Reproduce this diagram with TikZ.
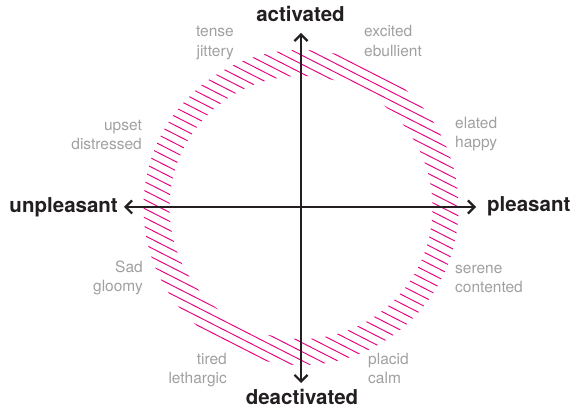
\documentclass[tikz,border=0pt]{standalone}
\usepackage{fontspec}
\setmainfont{TeX Gyre Heros}
\usetikzlibrary{arrows.meta}
\definecolor{hatchpink}{HTML}{E8007F}
\definecolor{axisdark}{HTML}{231F20}
\definecolor{labelgray}{HTML}{A0A0A0}
\begin{document}
\begin{tikzpicture}[x=1pt,y=-1pt,
  hatchline/.style={draw=hatchpink, line width=0.95pt},
  axisline/.style={draw=axisdark, line width=2.8pt,
    {Straight Barb[length=6.5pt,width=13pt,line width=2.2pt]}-{Straight Barb[length=6.5pt,width=13pt,line width=2.2pt]}},
  axislabel/.style={inner sep=0pt, text=axisdark, font=\fontsize{20.5}{24}\selectfont\bfseries},
  moodlabel/.style={inner sep=0pt, text=labelgray, font=\fontsize{15.5}{19.5}\selectfont},
]
\useasboundingbox (0,0) rectangle (574,409);
\coordinate (c) at (301,207.5);
% hatched ring
\begin{scope}[even odd rule]
  \clip (c) circle[radius=157.5] (c) circle[radius=131.5];
  \foreach \i in {-26,...,26}
    \draw[hatchline] ({301-\i*8*sin(27)-220*cos(27)},{207.5+\i*8*cos(27)-220*sin(27)})
      -- ++({440*cos(27)},{440*sin(27)});
\end{scope}
% axes
\coordinate (top) at (301,33);
\coordinate (bottom) at (301,383);
\coordinate (left) at (124,207);
\coordinate (right) at (476,207);
\draw[axisline] (bottom) -- (top);
\draw[axisline] (left) -- (right);
% axis labels
\node[axislabel, anchor=base] (act) at (300.5,22) {activated};
\node[axislabel, anchor=base] (deact) at (302,405) {deactivated};
\node[axislabel, anchor=base east] (unpl) at (118,213) {unpleasant};
\node[axislabel, anchor=base west] (pl) at (487,212) {pleasant};
% mood labels
\node[moodlabel, anchor=east, align=right] (tense) at (234,42.5) {\strut tense\\\strut jittery};
\node[moodlabel, anchor=west, align=left] (excited) at (364,42.5) {\strut excited\\\strut ebullient};
\node[moodlabel, anchor=east, align=right] (upset) at (142,136) {\strut upset\\\strut distressed};
\node[moodlabel, anchor=west, align=left] (elated) at (455,134) {\strut elated\\\strut happy};
\node[moodlabel, anchor=east, align=right] (sad) at (143,278) {\strut Sad\\\strut gloomy};
\node[moodlabel, anchor=west, align=left] (serene) at (455,279) {\strut serene\\\strut contented};
\node[moodlabel, anchor=east, align=right] (tired) at (227,370) {\strut tired\\\strut lethargic};
\node[moodlabel, anchor=west, align=left] (placid) at (368,370) {\strut placid\\\strut calm};
\end{tikzpicture}
\end{document}
